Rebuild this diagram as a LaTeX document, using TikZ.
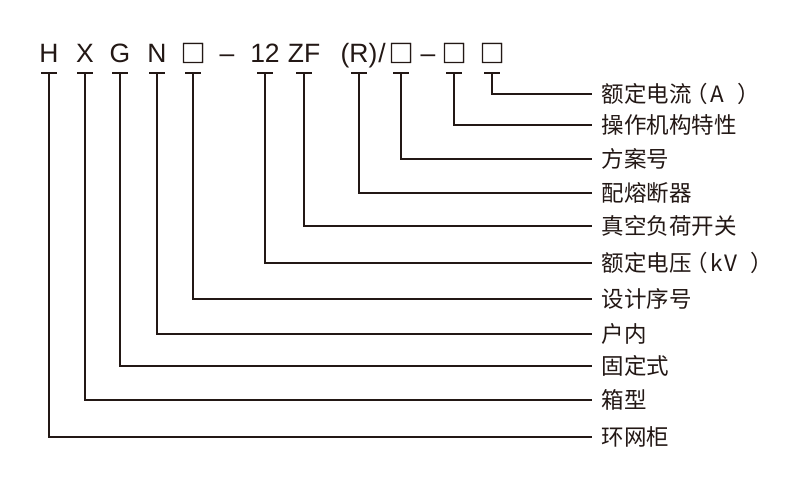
\documentclass[tikz,border=0pt]{standalone}
\usepackage{fontspec}
\setmainfont{Liberation Sans}
\newfontfamily\cjk{Noto Sans CJK SC}
\newfontfamily\boxfont[FakeBold=1.2]{Noto Sans CJK SC}
\definecolor{ink}{HTML}{231815}
\begin{document}
\begin{tikzpicture}[x=1pt,y=-1pt,
  code/.style={anchor=base, inner sep=0pt, font=\fontsize{26.5}{30}\selectfont, text=ink},
  sq/.style={anchor=base, inner sep=0pt, font=\boxfont\fontsize{25}{30}\selectfont, text=ink},
  lbl/.style={anchor=west, inner xsep=9.5pt, inner ysep=0pt, text height=18.6pt, text depth=1.6pt,
              font=\cjk\fontsize{22.5}{26}\selectfont, text=ink},
  lead/.style={draw=ink, line width=1.2pt},
  tbar/.style={draw=ink, line width=1.2pt}]
\useasboundingbox[fill=white] (0,0) rectangle (800,484);
% code row (baseline y = 63)
\node[code] (cH)  at (49,63)  {H};
\node[code] (cX)  at (85,63)  {X};
\node[code] (cG)  at (120,63) {G};
\node[code] (cN)  at (157,63) {N};
\node[sq]   (cS1) at (193,62.5) {□};
\node[code] (d1)  at (227,63) {–};
\node[code] (c12) at (265,63) {12};
\node[code] (cZF) at (304,63) {ZF};
\node[code] (cR)  at (359,63) {(R)};
\node[code] (sl)  at (382,63) {/};
\node[sq]   (cS2) at (401,62.5) {□};
\node[code] (d2)  at (428,63) {–};
\node[sq]   (cS3) at (454,62.5) {□};
\node[sq]   (cS4) at (492,62.5) {□};
% labels
\node[lbl] (l11) at (592,94)  {额定电流\hspace{-6pt}（\hspace{2pt}A\hspace{14pt}）\hspace{-12pt}};
\node[lbl] (l10) at (592,125) {操作机构特性};
\node[lbl] (l9)  at (592,159) {方案号};
\node[lbl] (l8)  at (592,193) {配熔断器};
\node[lbl] (l7)  at (592,226) {真空负荷开关};
\node[lbl] (l6)  at (592,263) {额定电压\hspace{-6pt}（\hspace{2pt}k\hspace{2pt}V\hspace{13pt}）\hspace{-12pt}};
\node[lbl] (l5)  at (592,299) {设计序号};
\node[lbl] (l4)  at (592,334) {户内};
\node[lbl] (l3)  at (592,366) {固定式};
\node[lbl] (l2)  at (592,400) {箱型};
\node[lbl] (l1)  at (592,437) {环网柜};
% leaders
\foreach \c/\l/\dy in {cH/l1/10, cX/l2/10, cG/l3/10, cN/l4/10, cS1/l5/10.5, c12/l6/10, cZF/l7/10, cR/l8/10, cS2/l9/10.5, cS3/l10/10.5, cS4/l11/10.5}{
  \path (\c.base) ++(0,\dy) coordinate (b\c);
  \draw[tbar] ([xshift=-8pt]b\c) -- ([xshift=8pt]b\c);
  \draw[lead] (b\c) |- (\l.west);
}
\end{tikzpicture}
\end{document}
